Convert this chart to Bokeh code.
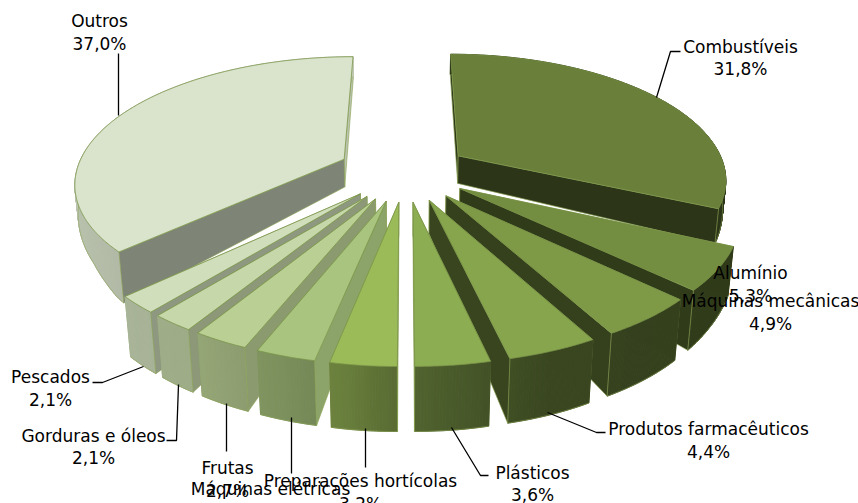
import numpy as np
from bokeh.embed import file_html
from bokeh.models import Range1d
from bokeh.plotting import figure
from bokeh.resources import INLINE

# Export shares, clockwise from twelve o'clock
categories = ["Combustíveis", "Alumínio", "Máquinas mecânicas", "Produtos farmacêuticos",
              "Plásticos", "Preparações hortícolas", "Máquinas elétricas", "Frutas",
              "Gorduras e óleos", "Pescados", "Outros"]
shares = [31.8, 5.3, 4.9, 4.4, 3.6, 3.2, 2.9, 2.7, 2.1, 2.1, 37.0]
top_colours = ["#6A7F3A", "#738E40", "#7F9A47", "#87A54C", "#8DAD52", "#9BBB59",
               "#A8C47E", "#BACF94", "#C6D7AA", "#D0DEBB", "#DAE4CC"]

# Label placement: centre x, first line y, second line y
label_x = [740, 750, 770, 708, 532, 360, 270, 227, 93, 50, 99]
label_y1 = [46, 272, 300, 428, 472, 480, 488, 467, 435, 376, 20]
label_y2 = [68, 295, 323, 451, 494, 503, 511, 490, 457, 399, 43]

# Leader lines, in the same order as the categories (Alumínio and Máquinas mecânicas have none)
leaders = {
    0: ([680, 670, 656], [51, 51, 97]),
    3: ([605, 596, 547], [432, 432, 412]),
    4: ([488, 480, 451], [475, 475, 427]),
    5: ([365, 365], [467, 428]),
    6: ([291, 291], [473, 417]),
    7: ([226, 226], [451, 403]),
    8: ([166, 176, 178], [440, 440, 384]),
    9: ([92, 102, 143], [382, 382, 366]),
    10: ([118, 118], [53, 115]),
}

# Pie projection parameters
CX, CY = 405.0, 171.0
HORIZON = -550.0
RADIUS = 268.0
EXPLODE = [64, 64, 64, 64, 64, 64, 64, 64, 64, 64, 68]
CAMERA = 1558.0
D0 = CY - HORIZON


def project(gx, gy):
    """Ground coordinates (gy towards the back) to page coordinates of the top face."""
    d = D0 / (1.0 + np.asarray(gy) / CAMERA)
    return CX + np.asarray(gx) * d / D0, HORIZON + d


def drop(sx, sy):
    """Page coordinates of the bottom face below a top-face point."""
    sx, sy = np.asarray(sx), np.asarray(sy)
    depth = np.interp(sy - HORIZON, [600, 725, 775, 797, 840, 914], [20, 29, 38, 50, 60, 65])
    return CX + (sx - CX) * (1 - depth / 3000.0), sy + depth


def rim_shade(angle):
    return np.interp(angle, [0, 135, 160, 173, 183, 188, 198, 211, 223, 235, 270, 360],
                     [.42, .42, .43, .52, .60, .67, .74, .80, .81, .83, .88, .88])


def cut_shade(angle):
    return np.interp(angle, [0, 170, 185, 191, 202, 211, 219, 226.8, 360],
                     [.42, .42, .84, .84, .75, .71, .69, .58, .86])


def tint(colour, factor):
    rgb = [int(colour[i:i + 2], 16) for i in (1, 3, 5)]
    return "#%02X%02X%02X" % tuple(int(min(255, c * factor)) for c in rgb)


p = figure(width=858, height=503, output_backend="svg", toolbar_location=None,
           x_range=Range1d(0, 858), y_range=Range1d(503, 0), min_border=0,
           x_axis_location=None, y_axis_location=None,
           background_fill_color="white", border_fill_color="white", outline_line_color=None)
p.grid.visible = False

edges = np.concatenate([[0], np.cumsum(shares)]) / sum(shares) * 360.0
mids = (edges[:-1] + edges[1:]) / 2

# Slices nearest the back are painted first
order = sorted(range(len(shares)), key=lambda i: -np.cos(np.radians(mids[i])))
for i in order:
    a0, a1, mid, colour = edges[i], edges[i + 1], mids[i], top_colours[i]
    ox = EXPLODE[i] * np.sin(np.radians(mid))
    oy = EXPLODE[i] * np.cos(np.radians(mid))
    angles = np.linspace(a0, a1, max(4, int((a1 - a0) * 2)))
    gx = ox + RADIUS * np.sin(np.radians(angles))
    gy = oy + RADIUS * np.cos(np.radians(angles))
    tx, ty = project(gx, gy)
    bx, by = drop(tx, ty)
    ax, ay = project(ox, oy)
    abx, aby = drop(ax, ay)

    def cut_face(k, a):
        p.patch([ax, tx[k], bx[k], abx], [ay, ty[k], by[k], aby],
                fill_color=tint(colour, cut_shade(a)),
                line_color="#8DA657", line_width=0.8, line_alpha=0.8)

    # The cut face turned away from the viewer goes under the rim, the other one over it
    hidden, shown = ((0, a0), (-1, a1)) if mid < 180 else ((-1, a1), (0, a0))
    cut_face(*hidden)

    # Outer rim, one strip per arc step so that the shading follows the curve
    xs = [[tx[j], tx[j + 1], bx[j + 1], bx[j]] for j in range(len(tx) - 1)]
    ys = [[ty[j], ty[j + 1], by[j + 1], by[j]] for j in range(len(tx) - 1)]
    cols = [tint(colour, rim_shade((angles[j] + angles[j + 1]) / 2)) for j in range(len(tx) - 1)]
    p.patches(xs, ys, fill_color=cols, line_color=cols, line_width=1.0)
    p.line(bx, by, line_color="#8DA657", line_width=0.8, line_alpha=0.7)

    cut_face(*shown)

    # Top face
    p.patch(np.r_[ax, tx], np.r_[ay, ty], fill_color=colour,
            line_color="#7A9548", line_width=0.9, line_alpha=0.85)

for i, (lx, ly) in leaders.items():
    p.line(lx, ly, line_color="black", line_width=1.3)

pct_labels = [f"{s:.1f}%".replace(".", ",") for s in shares]
p.text(label_x, label_y1, text=categories, text_font_size="17px", text_font={"value": "DejaVu Sans"},
       text_align="center", text_baseline="middle", text_color="black")
p.text(label_x, label_y2, text=pct_labels, text_font_size="17px", text_font={"value": "DejaVu Sans"},
       text_align="center", text_baseline="middle", text_color="black")

open("out.html", "w").write(file_html(p, INLINE))
